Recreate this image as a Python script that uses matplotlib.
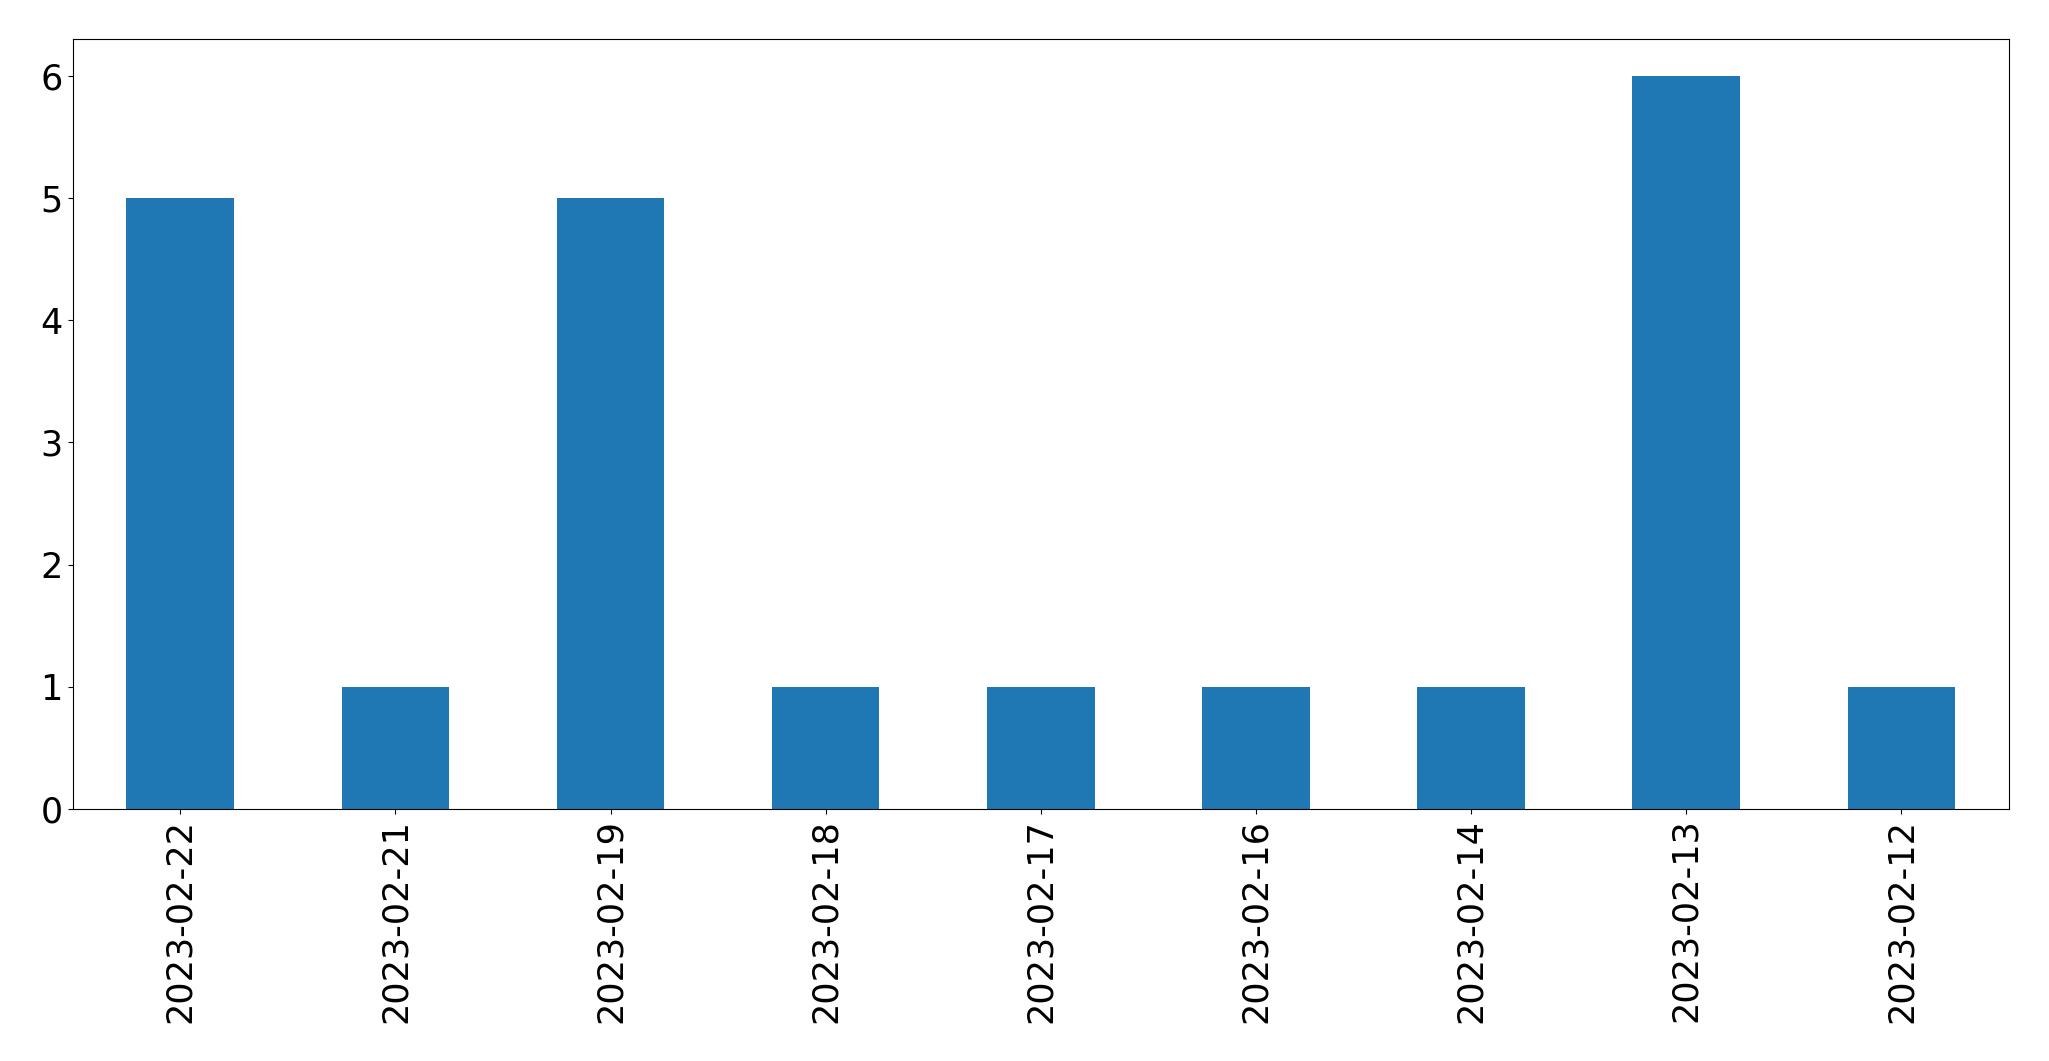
import matplotlib
matplotlib.use("Agg")
import matplotlib.pyplot as plt

# daily counts, newest first
dates = ["2023-02-22", "2023-02-21", "2023-02-19", "2023-02-18", "2023-02-17",
         "2023-02-16", "2023-02-14", "2023-02-13", "2023-02-12"]
counts = [5, 1, 5, 1, 1, 1, 1, 6, 1]

fig = plt.figure(figsize=(20.49, 10.61), dpi=100)
ax = fig.add_axes([72.7/2049, 1 - 809/1061, (2009-72.7)/2049, (809-39)/1061])

x = range(len(dates))
ax.bar(x, counts, width=0.5, color="#1f77b4")
ax.set_xlim(-0.5, len(dates) - 0.5)
ax.set_xticks(list(x))
ax.set_xticklabels(dates, rotation=90)
ax.tick_params(axis="both", labelsize=25.2)

fig.savefig("out.png", dpi=100)
